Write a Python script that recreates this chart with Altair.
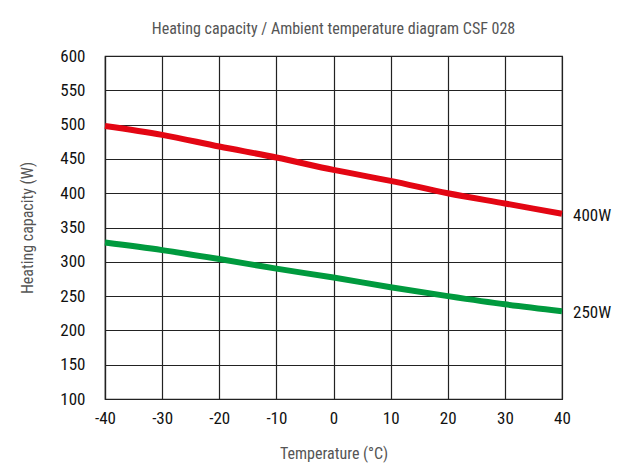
import altair as alt
import pandas as pd

temps = [-40, -30, -20, -10, 0, 10, 20, 30, 40]
red_400w = [498, 485, 468, 452, 434, 418, 400, 385, 370]
green_250w = [328, 317, 304, 290, 277, 263, 250, 238, 228]
y_ticks = [100, 150, 200, 250, 300, 350, 400, 450, 500, 550, 600]
series_names = ["400W", "250W"]
colors = ["#e30613", "#009a3e"]

rows = []
for name, vals in zip(series_names, [red_400w, green_250w]):
    for t, v in zip(temps, vals):
        rows.append({"temp": t, "cap": v, "series": name})
df = pd.DataFrame(rows)
last = df[df["temp"] == temps[-1]]

FONT = "Roboto Condensed, DejaVu Sans Condensed, Liberation Sans Narrow, Arial Narrow, Roboto"

x = alt.X("temp:Q", scale=alt.Scale(domain=[-40, 40], nice=False),
          axis=alt.Axis(values=temps, title="Temperature (°C)", tickSize=0,
                        labelPadding=11, titlePadding=19, labelOverlap=False,
                        labelFlush=False, labelExpr="toString(datum.value)"))
y = alt.Y("cap:Q", scale=alt.Scale(domain=[100, 600], nice=False),
          axis=alt.Axis(values=y_ticks, title="Heating capacity (W)",
                        tickSize=0, labelPadding=20, titlePadding=24, labelOverlap=False,
                        labelFlush=False))
color = alt.Color("series:N", scale=alt.Scale(domain=series_names, range=colors), legend=None)

lines = alt.Chart(df).mark_line(strokeWidth=6, interpolate="monotone").encode(x=x, y=y, color=color)
labels = alt.Chart(last).mark_text(align="left", dx=11, dy=2, fontSize=17, font=FONT, color="#111").encode(
    x=x, y=y, text="series:N")

chart = (lines + labels).properties(
    width=457, height=343,
    autosize=alt.AutoSizeParams(type="none"),
    padding={"left": 97, "top": 48, "right": 50, "bottom": 64},
    title=alt.TitleParams("Heating capacity / Ambient temperature diagram CSF 028",
                          font=FONT, fontSize=16, fontWeight="normal", color="#555", offset=10),
).configure_view(stroke="#222", strokeWidth=1.2).configure_axis(
    grid=True, gridColor="#222", gridWidth=1.2, gridOpacity=1,
    domainColor="#222", domainWidth=1.2,
    labelFont=FONT, labelFontSize=17, labelColor="#111",
    titleFont=FONT, titleFontSize=16, titleFontWeight="normal", titleColor="#555",
)

chart.save("out.html", embed_options={"renderer": "svg", "actions": False})
